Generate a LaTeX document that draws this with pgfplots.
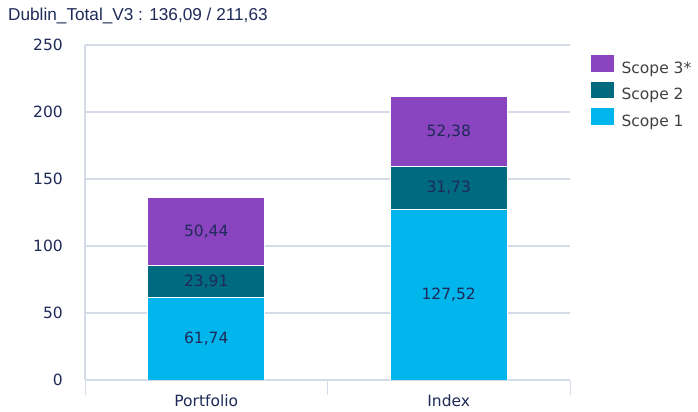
\documentclass[border=0pt]{standalone}
\usepackage{pgfplots}
\pgfplotsset{compat=1.18}
\usepackage{fontspec}
\setmainfont{DejaVu Sans}
\newfontfamily\titlefont{Liberation Sans}

\definecolor{scopeone}{HTML}{00B6EC}
\definecolor{scopetwo}{HTML}{006A80}
\definecolor{scopethree}{HTML}{8A44C0}
\definecolor{navy}{HTML}{1E2A58}
\definecolor{gridc}{HTML}{D3DCE8}
\definecolor{legtext}{HTML}{404040}

\begin{document}
\begin{tikzpicture}
\useasboundingbox (0,0) rectangle (698bp,412bp);
\node[anchor=west, inner sep=0pt, text=navy,
  font=\titlefont\fontsize{17.2bp}{20bp}\selectfont] at (8bp,396bp)
  {Dublin\_Total\_V3 : 136,09 / 211,63};
\begin{axis}[
  at={(85bp,32bp)}, anchor=south west,
  scale only axis,
  width=485bp, height=335bp,
  ybar stacked,
  bar width=117bp,
  xmin=-0.5, xmax=1.5,
  ymin=0, ymax=250,
  ytick={0,50,...,250},
  xtick={0,1},
  xticklabels={Portfolio, Index},
  extra x ticks={-0.5,0.5,1.5},
  extra x tick labels={},
  extra x tick style={grid=none, tick align=outside, major tick length=15bp,
    tick style={draw=gridc, line width=1bp}},
  major tick length=0pt,
  axis x line*=bottom,
  axis y line*=left,
  axis line style={draw=gridc, line width=1.2bp},
  ymajorgrids,
  grid style={draw=gridc, line width=1.2bp},
  tick label style={font=\fontsize{15.5bp}{18bp}\selectfont, text=navy},
  /pgf/number format/assume math mode=true,
  yticklabel style={inner sep=0pt, anchor=east, xshift=-22bp},
  xticklabel style={inner sep=0pt, anchor=base, yshift=-26bp},
  nodes near coords,
  nodes near coords style={font=\fontsize{15.5bp}{18bp}\selectfont, text=navy,
    /pgf/number format/fixed, /pgf/number format/fixed zerofill,
    /pgf/number format/precision=2, /pgf/number format/use comma,
    /pgf/number format/assume math mode=true},
  every node near coord/.append style={anchor=center},
  legend image code/.code={\fill[#1] (0bp,-4bp) rectangle (23.5bp,13.5bp);},
  reverse legend,
  legend style={draw=none, fill=none, at={(1.041,0.973)}, anchor=north west,
    inner sep=0pt, row sep=6bp,
    font=\fontsize{15.5bp}{18bp}\selectfont, text=legtext,
    nodes={inner sep=0pt}, column sep=0pt},
  legend cell align=left,
  /tikz/every odd column/.append style={column sep=7bp},
]
\addplot[fill=scopeone, draw=white, line width=1bp] coordinates {(0,61.74) (1,127.52)};
\addplot[fill=scopetwo, draw=white, line width=1bp] coordinates {(0,23.91) (1,31.73)};
\addplot[fill=scopethree, draw=white, line width=1bp] coordinates {(0,50.44) (1,52.38)};
\legend{Scope 1, Scope 2, Scope 3*}
\end{axis}
\end{tikzpicture}
\end{document}
